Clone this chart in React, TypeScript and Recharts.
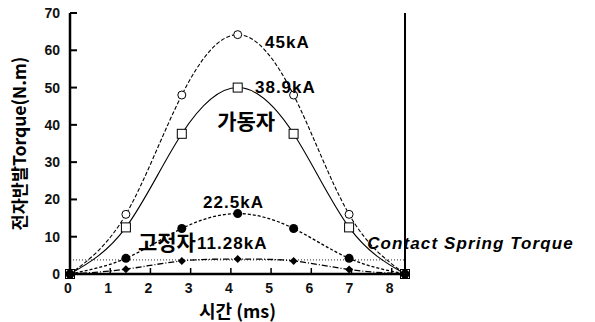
import React from "react";
import {
  ComposedChart,
  Line,
  XAxis,
  YAxis,
  ReferenceLine,
  ReferenceDot,
} from "recharts";

// time (ms) of each sample point, half period of 60Hz
const times = [0, 1.39, 2.78, 4.17, 5.56, 6.94, 8.33];
// torque (N.m) for each fault current
const torque45 = [0, 16, 48, 64.2, 48, 16, 0];
const torque389 = [0, 12.5, 37.6, 50, 37.6, 12.5, 0];
const torque225 = [0, 4.2, 12.2, 16.2, 12.2, 4.2, 0];
const torque1128 = [0, 1.3, 3.5, 4, 3.5, 1.2, 0];
const springTorque = 3.8;

const xTicks = [0, 1, 2, 3, 4, 5, 6, 7, 8];
const yTicks = [0, 10, 20, 30, 40, 50, 60, 70];

const data = times.map((t, i) => ({
  t,
  a45: torque45[i],
  a389: torque389[i],
  a225: torque225[i],
  a1128: torque1128[i],
}));

const latin = '"Liberation Sans", Arial, sans-serif';
const korean = '"Noto Sans CJK KR", "Liberation Sans", sans-serif';

const LeftTick = (props: any) => {
  const { x, y, payload } = props;
  return (
    <g>
      <line x1={x + 10} x2={x + 17} y1={y} y2={y} stroke="#000" strokeWidth={2} />
      <text x={x} y={y} dy={5} textAnchor="end" fontSize={14} fontWeight={700} fontFamily={latin} fill="#111">
        {payload.value}
      </text>
    </g>
  );
};

const RightTick = (props: any) => {
  const { x, y } = props;
  return <line x1={x} x2={x - 6} y1={y} y2={y} stroke="#000" strokeWidth={2} />;
};

const BottomTick = (props: any) => {
  const { x, y, payload } = props;
  return (
    <g>
      <line x1={x} x2={x} y1={y - 9} y2={y - 15} stroke="#000" strokeWidth={1.5} />
      <text x={x - 2} y={y} dy={10} textAnchor="middle" fontSize={14} fontWeight={700} fontFamily={latin} fill="#111">
        {payload.value}
      </text>
    </g>
  );
};

const OpenCircle = (p: any) => (
  <circle key={p.index} cx={p.cx} cy={p.cy} r={4} fill="#fff" stroke="#000" strokeWidth={1} />
);
const OpenSquare = (p: any) => (
  <rect key={p.index} x={p.cx - 4.5} y={p.cy - 4.5} width={9} height={9} fill="#fff" stroke="#000" strokeWidth={1} />
);
const FilledCircle = (p: any) => <circle key={p.index} cx={p.cx} cy={p.cy} r={4.5} fill="#000" />;
const FilledDiamond = (p: any) => (
  <path
    key={p.index}
    d={`M${p.cx},${p.cy - 4} L${p.cx + 4},${p.cy} L${p.cx},${p.cy + 4} L${p.cx - 4},${p.cy} Z`}
    fill="#000"
  />
);

const note = (text: string, size: number, family: string, extra: any = {}) => (p: any) => (
  <text
    x={p.cx}
    y={p.cy}
    dominantBaseline="central"
    fontSize={size}
    fontWeight={700}
    fontFamily={family}
    fill="#000"
    {...extra}
  >
    {text}
  </text>
);

export default function App() {
  return (
    <div style={{ position: "absolute", left: 0, top: 0, width: 595, height: 322, background: "#fff" }}>
      <ComposedChart
        width={595}
        height={322}
        data={data}
        margin={{ top: 13, right: 180, bottom: 1, left: 5 }}
      >
        <XAxis
          dataKey="t"
          type="number"
          domain={[0, 8.33]}
          ticks={xTicks}
          interval={0}
          height={47}
          tickSize={0}
          tickMargin={9}
          tick={<BottomTick />}
          axisLine={{ stroke: "#000", strokeWidth: 2.5 }}
          label={{
            value: "시간 (ms)",
            position: "insideBottom",
            offset: 3,
            style: { fontSize: 18, fontWeight: 700, fontFamily: korean, fill: "#000" },
          }}
        />
        <YAxis
          type="number"
          domain={[0, 70]}
          ticks={yTicks}
          interval={0}
          width={65}
          tickSize={0}
          tickMargin={10}
          tick={<LeftTick />}
          axisLine={{ stroke: "#000", strokeWidth: 2.5 }}
          label={{
            value: "전자반발Torque(N.m)",
            angle: -90,
            position: "insideLeft",
            offset: 15,
            style: { textAnchor: "middle", fontSize: 17.5, fontWeight: 700, fontFamily: korean, fill: "#000" },
          }}
        />
        <YAxis
          yAxisId="r"
          orientation="right"
          type="number"
          domain={[0, 70]}
          ticks={yTicks}
          interval={0}
          width={10}
          tickSize={0}
          tickMargin={0}
          tick={<RightTick />}
          axisLine={{ stroke: "#000", strokeWidth: 2 }}
        />
        <ReferenceLine y={springTorque} stroke="#555" strokeDasharray="1 2" strokeWidth={1.2} />
        <Line
          type="natural"
          dataKey="a45"
          stroke="#000"
          strokeWidth={1.1}
          strokeDasharray="4 2"
          dot={OpenCircle}
          isAnimationActive={false}
        />
        <Line
          type="natural"
          dataKey="a389"
          stroke="#000"
          strokeWidth={1.1}
          dot={OpenSquare}
          isAnimationActive={false}
        />
        <Line
          type="natural"
          dataKey="a225"
          stroke="#000"
          strokeWidth={1.3}
          strokeDasharray="3 2"
          dot={FilledCircle}
          isAnimationActive={false}
        />
        <Line
          type="natural"
          dataKey="a1128"
          stroke="#000"
          strokeWidth={1.3}
          strokeDasharray="6 2 1 2"
          dot={FilledDiamond}
          isAnimationActive={false}
        />
        <ReferenceDot x={4.85} y={62.2} r={0} shape={note("45kA", 17, latin, { letterSpacing: 1 })} />
        <ReferenceDot x={4.6} y={50.1} r={0} shape={note("38.9kA", 17, latin, { letterSpacing: 1 })} />
        <ReferenceDot x={4.38} y={41.2} r={0} shape={note("가동자", 21, korean, { textAnchor: "middle" })} />
        <ReferenceDot x={3.31} y={19.1} r={0} shape={note("22.5kA", 17, latin, { letterSpacing: 1 })} />
        <ReferenceDot x={2.41} y={8.9} r={0} shape={note("고정자", 21, korean, { textAnchor: "middle" })} />
        <ReferenceDot x={3.16} y={8.3} r={0} shape={note("11.28kA", 17, latin, { letterSpacing: 1 })} />
        <ReferenceDot
          x={7.39}
          y={8.1}
          r={0}
          shape={note("Contact Spring Torque", 17, latin, { fontStyle: "italic", letterSpacing: 1.1 })}
        />
      </ComposedChart>
    </div>
  );
}
